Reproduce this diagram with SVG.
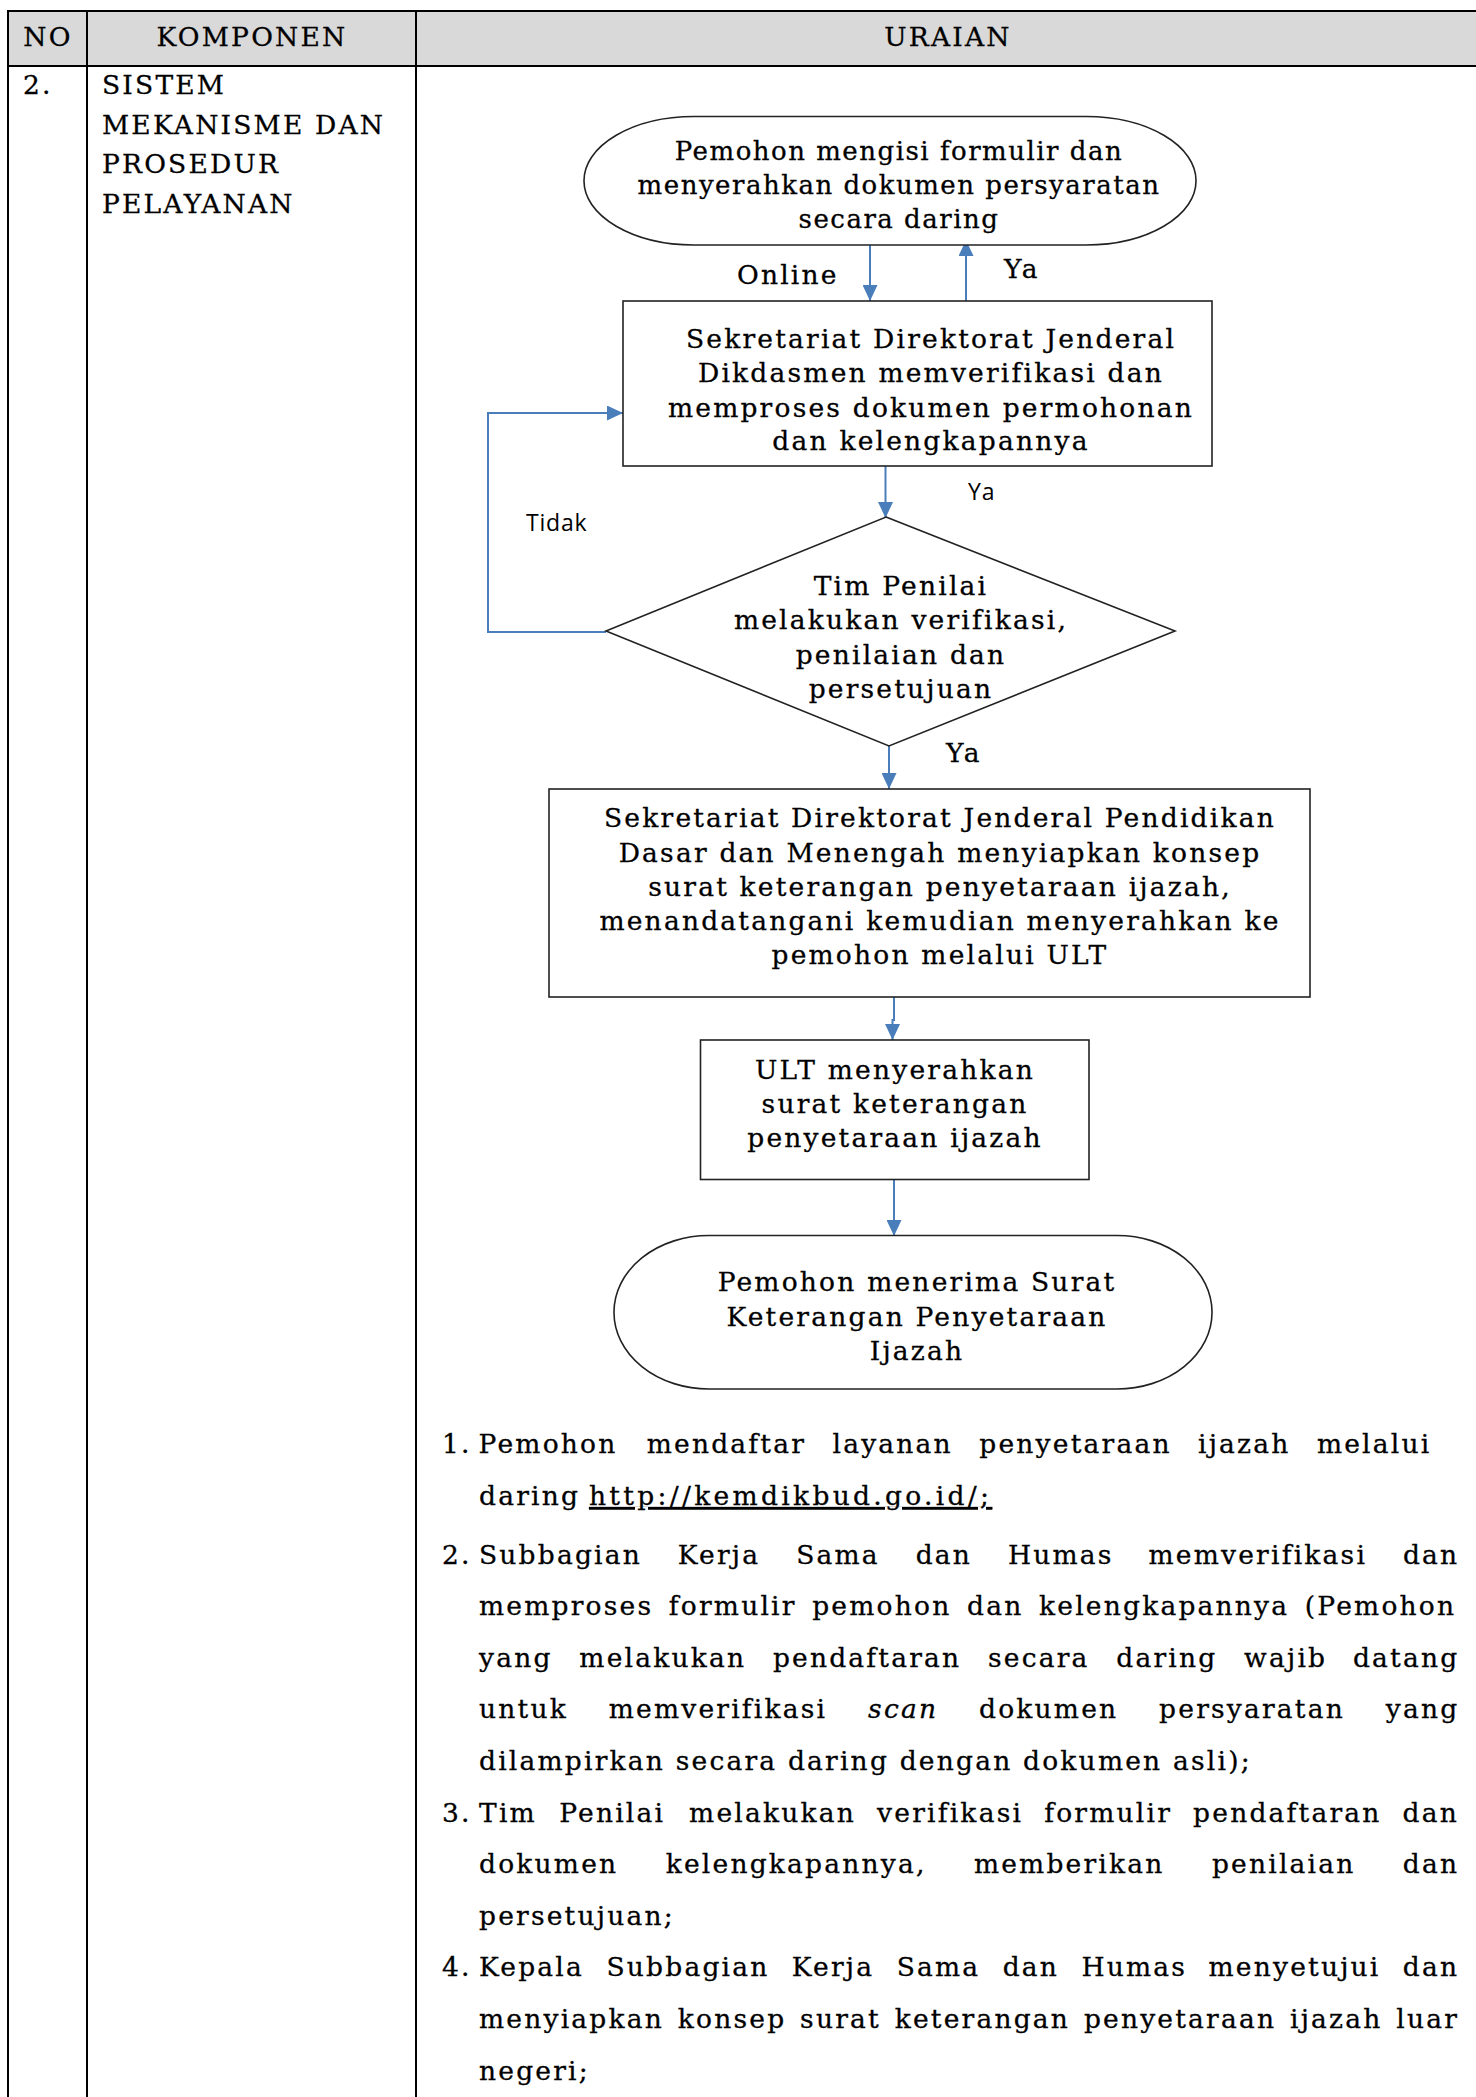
<svg xmlns="http://www.w3.org/2000/svg" width="1476" height="2097" viewBox="0 0 1476 2097">
<style>
.t{font-family:"DejaVu Serif",serif;font-size:26.5px;letter-spacing:2.2px;fill:#000;stroke:#000;stroke-width:0.3}
.t1{font-family:"DejaVu Serif",serif;font-size:26px;letter-spacing:1.5px;fill:#000;stroke:#000;stroke-width:0.3}
.s{font-family:"Open Sans",sans-serif;font-size:23px;letter-spacing:0.8px;fill:#000}
.c{text-anchor:middle}
.e{text-anchor:end}
.grid{stroke:#000;stroke-width:2;fill:none}
.shape{fill:#fff;stroke:#222;stroke-width:1.6}
.conn{stroke:#4a7ebb;stroke-width:2;fill:none}
</style>
<defs>
<marker id="ah" markerUnits="userSpaceOnUse" markerWidth="16" markerHeight="15" refX="16" refY="7.5" orient="auto">
<path d="M0,0 L16,7.5 L0,15 z" fill="#4a7ebb"/>
</marker>
</defs>
<rect x="0" y="0" width="1476" height="2097" fill="#fff"/>
<g id="table">
<rect x="9" y="11" width="1467" height="55" fill="#d9d9d9"/>
<path class="grid" d="M1476,11 H8 V2097 M8,66 H1476 M87,10 V2097 M416,10 V2097"/>
<text class="t c" x="48" y="46">NO</text>
<text class="t c" x="252" y="46">KOMPONEN</text>
<text class="t c" x="948" y="46">URAIAN</text>
<text class="t" x="23" y="94">2.</text>
<text class="t" x="102" y="94">SISTEM</text>
<text class="t" x="102" y="133.5">MEKANISME DAN</text>
<text class="t" x="102" y="173">PROSEDUR</text>
<text class="t" x="102" y="213">PELAYANAN</text>
</g>
<g id="connectors">
<line class="conn" x1="870" y1="235" x2="870" y2="301" marker-end="url(#ah)"/>
<line class="conn" x1="966" y1="301" x2="966" y2="240" marker-end="url(#ah)"/>
<line class="conn" x1="885.5" y1="462" x2="885.5" y2="518" marker-end="url(#ah)"/>
<line class="conn" x1="889" y1="746" x2="889" y2="789" marker-end="url(#ah)"/>
<path class="conn" d="M894,997 V1020 H892.5 V1040" marker-end="url(#ah)"/>
<line class="conn" x1="894" y1="1174" x2="894" y2="1236" marker-end="url(#ah)"/>
<path class="conn" d="M606,632 H488 V413 H623" marker-end="url(#ah)"/>
<text class="t" x="737" y="284">Online</text>
<text class="t" x="1004" y="278">Ya</text>
<text class="s" x="968" y="500">Ya</text>
<text class="s" x="526" y="531">Tidak</text>
<text class="t" x="946" y="762">Ya</text>
</g>
<g id="n1">
<rect class="shape" x="584" y="116.5" width="612" height="128.5" rx="110" ry="64"/>
<text class="t1 c" x="899" y="160">Pemohon mengisi formulir dan</text>
<text class="t1 c" x="899" y="194">menyerahkan dokumen persyaratan</text>
<text class="t1 c" x="899" y="228">secara daring</text>
</g>
<g id="n2">
<rect class="shape" x="623" y="301" width="589" height="165"/>
<text class="t c" x="931" y="348">Sekretariat Direktorat Jenderal</text>
<text class="t c" x="931" y="382">Dikdasmen memverifikasi dan</text>
<text class="t c" x="931" y="416.5">memproses dokumen permohonan</text>
<text class="t c" x="931" y="450">dan kelengkapannya</text>
</g>
<g id="n3">
<polygon class="shape" points="886,517 1175,631 889,746 606,631"/>
<text class="t c" x="901" y="595">Tim Penilai</text>
<text class="t c" x="901" y="629">melakukan verifikasi,</text>
<text class="t c" x="901" y="664">penilaian dan</text>
<text class="t c" x="901" y="698">persetujuan</text>
</g>
<g id="n4">
<rect class="shape" x="549" y="789" width="761" height="208"/>
<text class="t c" x="940" y="827">Sekretariat Direktorat Jenderal Pendidikan</text>
<text class="t c" x="940" y="862">Dasar dan Menengah menyiapkan konsep</text>
<text class="t c" x="940" y="896">surat keterangan penyetaraan ijazah,</text>
<text class="t c" x="940" y="930">menandatangani kemudian menyerahkan ke</text>
<text class="t c" x="940" y="964">pemohon melalui ULT</text>
</g>
<g id="n5">
<rect class="shape" x="700.5" y="1040" width="388.5" height="139.5"/>
<text class="t c" x="895" y="1079">ULT menyerahkan</text>
<text class="t c" x="895" y="1112.5">surat keterangan</text>
<text class="t c" x="895" y="1146.5">penyetaraan ijazah</text>
</g>
<g id="n6">
<rect class="shape" x="614" y="1235.5" width="598" height="153.5" rx="95" ry="76.5"/>
<text class="t c" x="917" y="1291">Pemohon menerima Surat</text>
<text class="t c" x="917" y="1326">Keterangan Penyetaraan</text>
<text class="t c" x="917" y="1360">Ijazah</text>
</g>
<g id="list">
<text class="t" y="1453"><tspan x="442">1.</tspan><tspan x="478.6">Pemohon</tspan><tspan x="646.7">mendaftar</tspan><tspan x="832.5">layanan</tspan><tspan x="979.3">penyetaraan</tspan><tspan x="1198">ijazah</tspan><tspan x="1316.9">melalui</tspan></text>
<text class="t" y="1505"><tspan x="479">daring</tspan><tspan x="589" text-decoration="underline" letter-spacing="3.3">http://kemdikbud.go.id/;</tspan></text>
<text class="t" y="1563.5"><tspan x="442">2.</tspan><tspan x="479">Subbagian</tspan><tspan x="677.8">Kerja</tspan><tspan x="796.2">Sama</tspan><tspan x="915.7">dan</tspan><tspan x="1007.9">Humas</tspan><tspan x="1148.5">memverifikasi</tspan><tspan x="1402.9">dan</tspan></text>
<text class="t" y="1615"><tspan x="479">memproses</tspan><tspan x="668.8">formulir</tspan><tspan x="812.2">pemohon</tspan><tspan x="967">dan</tspan><tspan x="1039">kelengkapannya</tspan><tspan x="1304.8">(Pemohon</tspan></text>
<text class="t" y="1666.7"><tspan x="479">yang</tspan><tspan x="579.3">melakukan</tspan><tspan x="772.9">pendaftaran</tspan><tspan x="988">secara</tspan><tspan x="1116.3">daring</tspan><tspan x="1244.1">wajib</tspan><tspan x="1352.9">datang</tspan></text>
<text class="t" y="1718.3"><tspan x="479">untuk</tspan><tspan x="608.7">memverifikasi</tspan><tspan x="868.1" font-style="italic">scan</tspan><tspan x="979">dokumen</tspan><tspan x="1159.1">persyaratan</tspan><tspan x="1385.8">yang</tspan></text>
<text class="t" x="479" y="1770">dilampirkan secara daring dengan dokumen asli);</text>
<text class="t" y="1821.5"><tspan x="442">3.</tspan><tspan x="479">Tim</tspan><tspan x="559.2">Penilai</tspan><tspan x="689.1">melakukan</tspan><tspan x="877.1">verifikasi</tspan><tspan x="1044.2">formulir</tspan><tspan x="1193.1">pendaftaran</tspan><tspan x="1402.6">dan</tspan></text>
<text class="t" y="1873"><tspan x="479">dokumen</tspan><tspan x="665.7">kelengkapannya,</tspan><tspan x="973.9">memberikan</tspan><tspan x="1211.9">penilaian</tspan><tspan x="1402.8">dan</tspan></text>
<text class="t" x="479" y="1924.7">persetujuan;</text>
<text class="t" y="1976.3"><tspan x="442">4.</tspan><tspan x="479">Kepala</tspan><tspan x="606.5">Subbagian</tspan><tspan x="791.8">Kerja</tspan><tspan x="896.7">Sama</tspan><tspan x="1002.7">dan</tspan><tspan x="1081.4">Humas</tspan><tspan x="1208.5">menyetujui</tspan><tspan x="1402.8">dan</tspan></text>
<text class="t" y="2028"><tspan x="479">menyiapkan</tspan><tspan x="677.8">konsep</tspan><tspan x="800.1">surat</tspan><tspan x="894.7">keterangan</tspan><tspan x="1083.9">penyetaraan</tspan><tspan x="1290">ijazah</tspan><tspan x="1396.3">luar</tspan></text>
<text class="t" x="479" y="2079.5">negeri;</text>
</g>
</svg>
